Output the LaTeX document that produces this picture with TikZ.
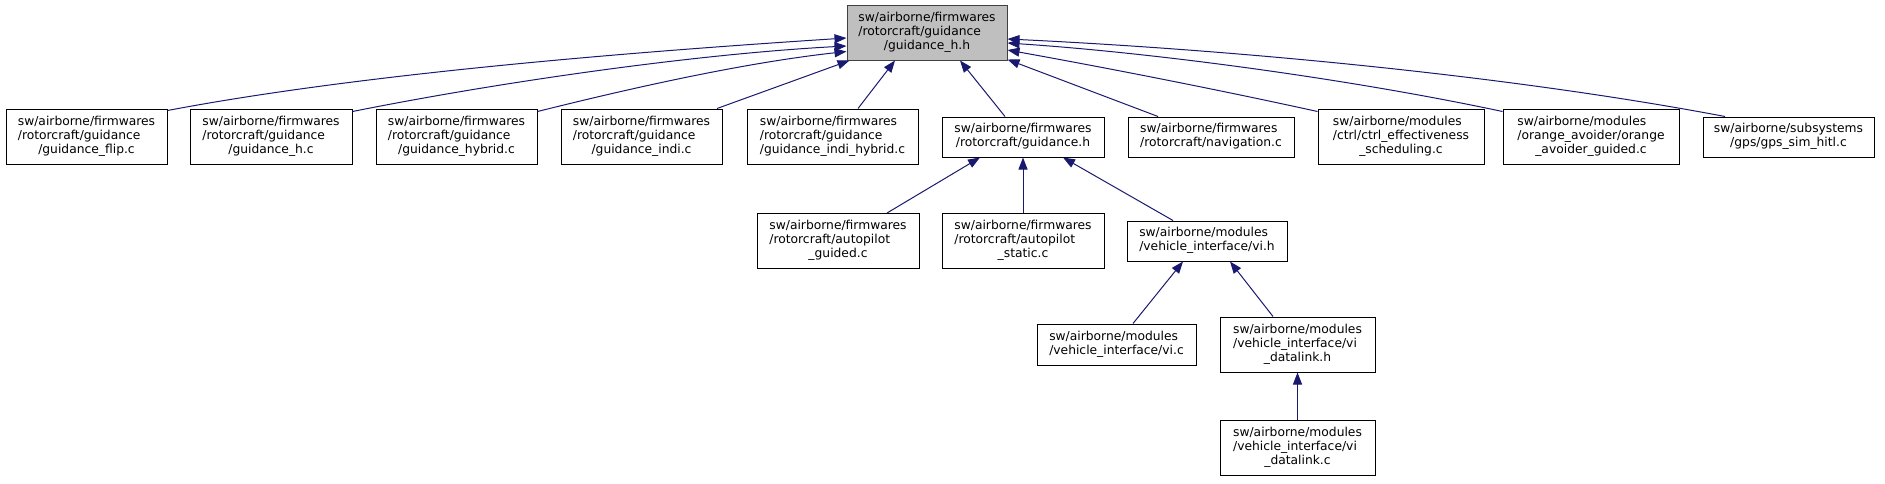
\documentclass[tikz,border=0pt]{standalone}
\usepackage{fontspec}
\setmainfont{DejaVu Sans}
\usetikzlibrary{arrows.meta,calc}
\definecolor{edgeblue}{HTML}{191970}
\definecolor{topfill}{HTML}{BFBFBF}
\definecolor{topdraw}{HTML}{404040}
\newcommand\dlabc[3]{\begin{tabular}{@{}l@{}}#1\\#2\\\multicolumn{1}{@{}c@{}}{#3}\end{tabular}}
\newcommand\dlabd[2]{\begin{tabular}{@{}l@{}}#1\\\multicolumn{1}{@{}c@{}}{#2}\end{tabular}}
\begin{document}
\begin{tikzpicture}[x=1pt,y=-1pt,
  box/.style={draw=black, line width=1pt, fill=white, inner sep=0pt, rectangle,
    font=\fontsize{12.3}{14}\selectfont},
  boxc/.style={box, minimum height=55pt},
  boxb/.style={box, minimum height=40pt},
  edge/.style={draw=edgeblue, line width=1pt, -{Triangle[length=12pt,width=9pt]}}]
\useasboundingbox (0,0) rectangle (1885,483);
% nodes
\node[boxc, fill=topfill, draw=topdraw, minimum width=160pt] (top) at (927,32.5) {\dlabc{sw/airborne/firmwares}{/rotorcraft/guidance}{/guidance\_h.h}};
\node[boxc, minimum width=161pt] (flip) at (86.5,136.5) {\dlabc{sw/airborne/firmwares}{/rotorcraft/guidance}{/guidance\_flip.c}};
\node[boxc, minimum width=162pt] (hc) at (271,136.5) {\dlabc{sw/airborne/firmwares}{/rotorcraft/guidance}{/guidance\_h.c}};
\node[boxc, minimum width=161pt] (hybrid) at (456.5,136.5) {\dlabc{sw/airborne/firmwares}{/rotorcraft/guidance}{/guidance\_hybrid.c}};
\node[boxc, minimum width=161pt] (indi) at (641.5,136.5) {\dlabc{sw/airborne/firmwares}{/rotorcraft/guidance}{/guidance\_indi.c}};
\node[boxc, minimum width=171pt] (indihyb) at (832.5,136.5) {\dlabc{sw/airborne/firmwares}{/rotorcraft/guidance}{/guidance\_indi\_hybrid.c}};
\node[boxb, minimum width=162pt] (guidh) at (1023,137) {\dlabd{sw/airborne/firmwares}{/rotorcraft/guidance.h}};
\node[boxb, minimum width=166pt] (nav) at (1211,137) {\dlabd{sw/airborne/firmwares}{/rotorcraft/navigation.c}};
\node[boxc, minimum width=166pt] (ctrl) at (1401,136.5) {\dlabc{sw/airborne/modules}{/ctrl/ctrl\_effectiveness}{\_scheduling.c}};
\node[boxc, minimum width=176pt] (orange) at (1591,136.5) {\dlabc{sw/airborne/modules}{/orange\_avoider/orange}{\_avoider\_guided.c}};
\node[boxb, minimum width=171pt] (gps) at (1788.5,137) {\dlabd{sw/airborne/subsystems}{/gps/gps\_sim\_hitl.c}};
\node[boxc, minimum width=162pt] (guided) at (838,241) {\dlabc{sw/airborne/firmwares}{/rotorcraft/autopilot}{\_guided.c}};
\node[boxc, minimum width=162pt] (static) at (1023,241) {\dlabc{sw/airborne/firmwares}{/rotorcraft/autopilot}{\_static.c}};
\node[boxb, minimum width=160pt] (vih) at (1207,241) {\dlabd{sw/airborne/modules}{/vehicle\_interface/vi.h}};
\node[boxb, minimum width=159pt, minimum height=41pt] (vic) at (1116.5,344.5) {\dlabd{sw/airborne/modules}{/vehicle\_interface/vi.c}};
\node[boxc, minimum width=155pt] (dlh) at (1297.5,344.5) {\dlabc{sw/airborne/modules}{/vehicle\_interface/vi}{\_datalink.h}};
\node[boxc, minimum width=155pt] (dlc) at (1297.5,447.5) {\dlabc{sw/airborne/modules}{/vehicle\_interface/vi}{\_datalink.c}};
% edges into the top node
\draw[edge] ($(flip.north east)+(0,2)$) .. controls +(200,-38) and +(-200,13) .. ($(top.west)+(0,5.5)$);
\draw[edge] ($(hc.north east)+(0,3)$) .. controls +(150,-30) and +(-150,8) .. ($(top.west)+(0,13.5)$);
\draw[edge] ($(hybrid.north east)+(0,3)$) .. controls +(100,-25) and +(-100,11) .. ($(top.west)+(0,19)$);
\draw[edge] ($(indi.north)+(75.5,0)$) -- ($(top.south west)+(3,0)$);
\draw[edge] ($(indihyb.north)+(25.5,0)$) -- ($(top.south)+(-32,0)$);
\draw[edge] ($(guidh.north)+(-18,0)$) -- ($(top.south)+(33,0)$);
\draw[edge] ($(nav.north)+(-53,0)$) -- ($(top.south east)+(0,-1)$);
\draw[edge] ($(ctrl.north west)+(0,3)$) .. controls +(-100,-22) and +(100,18) .. ($(top.east)+(0,17.5)$);
\draw[edge] ($(orange.north west)+(0,3)$) .. controls +(-150,-32) and +(150,10) .. ($(top.east)+(0,10.5)$);
\draw[edge] ($(gps.north)+(-63.5,0)$) .. controls +(-200,-38) and +(250,12) .. ($(top.east)+(0,6.5)$);
% lower edges
\draw[edge] ($(guided.north)+(49,0)$) -- ($(guidh.south)+(-43,0)$);
\draw[edge] (static.north) -- (guidh.south);
\draw[edge] ($(vih.north)+(-34,0)$) -- ($(guidh.south)+(40,0)$);
\draw[edge] ($(vic.north)+(16.5,0)$) -- ($(vih.south)+(-24,0)$);
\draw[edge] ($(dlh.north)+(-24.5,0)$) -- ($(vih.south)+(23,0)$);
\draw[edge] (dlc.north) -- (dlh.south);
\end{tikzpicture}
\end{document}
